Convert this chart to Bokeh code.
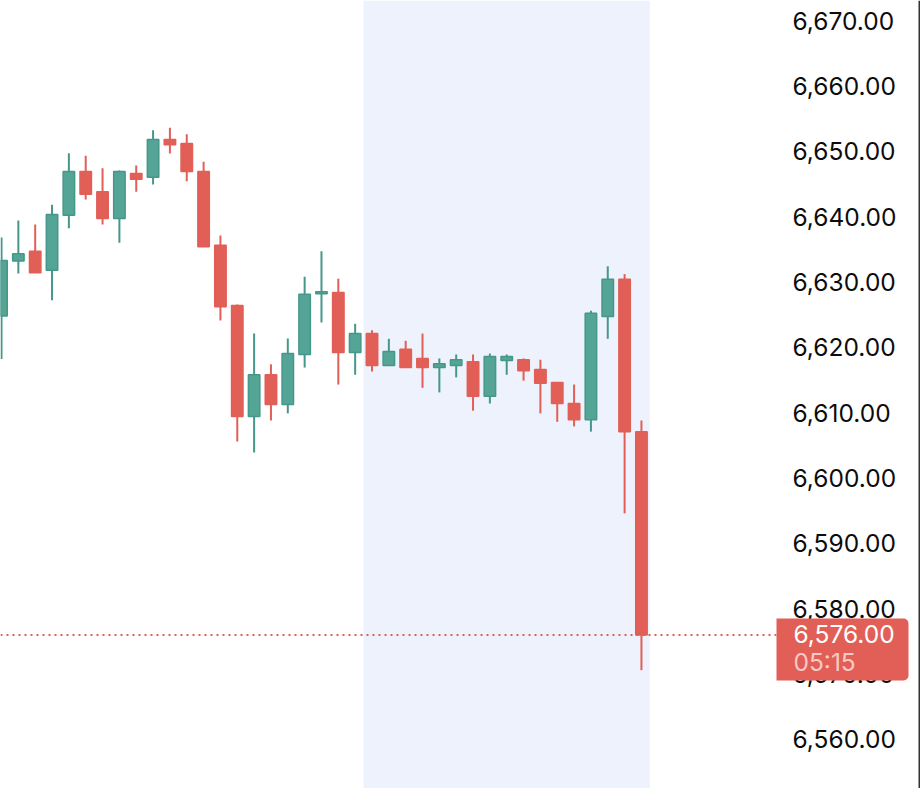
from bokeh.embed import file_html
from bokeh.layouts import column
from bokeh.models import BoxAnnotation, ColumnDataSource, FixedTicker, Label, NumeralTickFormatter, Range1d, Span
from bokeh.plotting import figure
from bokeh.resources import INLINE

# candles, left to right
opens = [6624.8,6633.2,6634.7,6631.8,6640.2,6646.9,6643.8,6639.7,6646.6,6646.0,6651.8,6651.2,6646.9,6635.6,6626.4,
         6609.4,6615.8,6611.25,6618.9,6628.2,6628.4,6619.2,6622.1,6617.2,6619.7,6618.3,6616.9,6617.2,6617.8,6612.5,
         6618.0,6618.1,6616.6,6614.6,6611.4,6608.9,6624.7,6630.4,6607.1]
closes = [6633.3,6634.3,6631.4,6640.3,6646.9,6643.4,6639.7,6646.9,6645.7,6651.8,6651.0,6646.9,6635.4,6626.2,6609.4,
          6615.8,6611.25,6619.05,6628.1,6628.5,6619.2,6622.1,6617.2,6619.35,6616.9,6616.9,6617.5,6618.1,6612.5,6618.6,
          6618.6,6616.4,6614.5,6611.4,6608.9,6625.2,6630.4,6607.1,6576.0]
highs = [6636.8,6639.4,6638.8,6641.8,6649.7,6649.3,6647.4,6647.05,6647.8,6653.2,6653.6,6652.6,6648.4,6637.1,6626.55,
         6622.1,6617.4,6621.35,6630.8,6634.7,6630.5,6623.6,6622.6,6621.3,6621.0,6622.1,6618.3,6618.9,6618.9,6619.05,
         6618.9,6618.3,6618.1,6614.6,6614.3,6625.6,6632.4,6631.2,6608.8]
lows = [6618.2,6631.3,6631.4,6627.2,6638.2,6642.6,6638.8,6636.0,6643.8,6644.9,6649.65,6645.4,6635.4,6624.1,6605.6,
        6603.9,6608.8,6609.9,6616.9,6623.8,6614.3,6615.8,6616.3,6617.2,6616.9,6613.8,6613.1,6615.4,6610.3,6611.4,
        6615.8,6614.9,6609.9,6608.6,6607.9,6607.1,6621.3,6594.6,6570.6]
y_ticks = [6560,6570,6580,6590,6600,6610,6620,6630,6640,6650,6660,6670]
last_price = 6576.0
last_label = "6,576.00"
countdown = "05:15"
session_start = 21.5
session_end = 38.5

GREEN, GREEN_EDGE, RED = "#55a596", "#44978a", "#e15f56"
FONT = "Inter"
FONT_SIZE = "24.5px"

idx = list(range(len(opens)))
up = [c > o for o, c in zip(opens, closes)]
source = ColumnDataSource({
    "i": idx, "open": opens, "close": closes, "high": highs, "low": lows,
    "fill": [GREEN if u else RED for u in up],
    "edge": [GREEN_EDGE if u else RED for u in up],
})

p = figure(width=920, height=788, output_backend="svg", toolbar_location=None, tools="",
           x_range=Range1d(-0.06, 46.02), y_range=Range1d(6552.5, 6673.06),
           y_axis_location="right", min_border=0, min_border_right=144)
p.frame_align = False
p.outline_line_color = None
p.xaxis.visible = False
p.grid.visible = False

p.add_layout(BoxAnnotation(left=session_start, right=session_end, fill_color="#eef2fd", fill_alpha=1,
                           line_color=None, level="underlay"))
p.add_layout(Span(location=last_price, dimension="width", line_color=RED, line_width=2, line_dash="2 4"))

p.segment(x0="i", x1="i", y0="low", y1="high", source=source, line_color="edge", line_width=2)
p.vbar(x="i", bottom="open", top="close", width=0.68, source=source, fill_color="fill", line_color="edge", line_width=1.5)

yaxis = p.yaxis[0]
yaxis.ticker = FixedTicker(ticks=y_ticks)
yaxis.formatter = NumeralTickFormatter(format="0,0.00")
yaxis.axis_line_color = None
yaxis.major_tick_line_color = None
yaxis.major_tick_out = 0
yaxis.major_tick_in = 0
yaxis.minor_tick_line_color = None
yaxis.major_label_standoff = 16
yaxis.major_label_text_font = FONT
yaxis.major_label_text_font_size = FONT_SIZE
yaxis.major_label_text_color = "#0c0c0c"

# annotations get clipped to the frame, so the price tag goes on a see through figure laid over the whole chart
# its ranges are plain pixels, y pointing down
tag = figure(width=920, height=788, output_backend="svg", toolbar_location=None, tools="",
             x_range=Range1d(0, 920), y_range=Range1d(788, 0), min_border=0, margin=(-788, 0, 0, 0))
tag.frame_align = False
tag.outline_line_color = None
tag.axis.visible = False
tag.grid.visible = False
tag.background_fill_alpha = 0
tag.border_fill_alpha = 0
tag.add_layout(BoxAnnotation(left=776, right=908, top=618, bottom=680, fill_color=RED, fill_alpha=1,
                             line_color=None, border_radius=(0, 5, 5, 0)))
tag.add_layout(Label(x=793, y=633, text=last_label, text_color="#ffffff", text_font=FONT,
                     text_font_size=FONT_SIZE, text_baseline="middle"))
tag.add_layout(Label(x=793, y=661, text=countdown, text_color="#f8c9c5", text_font=FONT,
                     text_font_size=FONT_SIZE, text_baseline="middle"))
tag.add_layout(BoxAnnotation(left=918, right=920, fill_color="#333333", fill_alpha=1, line_color=None))

open("out.html", "w").write(file_html(column(p, tag, spacing=0), INLINE))
